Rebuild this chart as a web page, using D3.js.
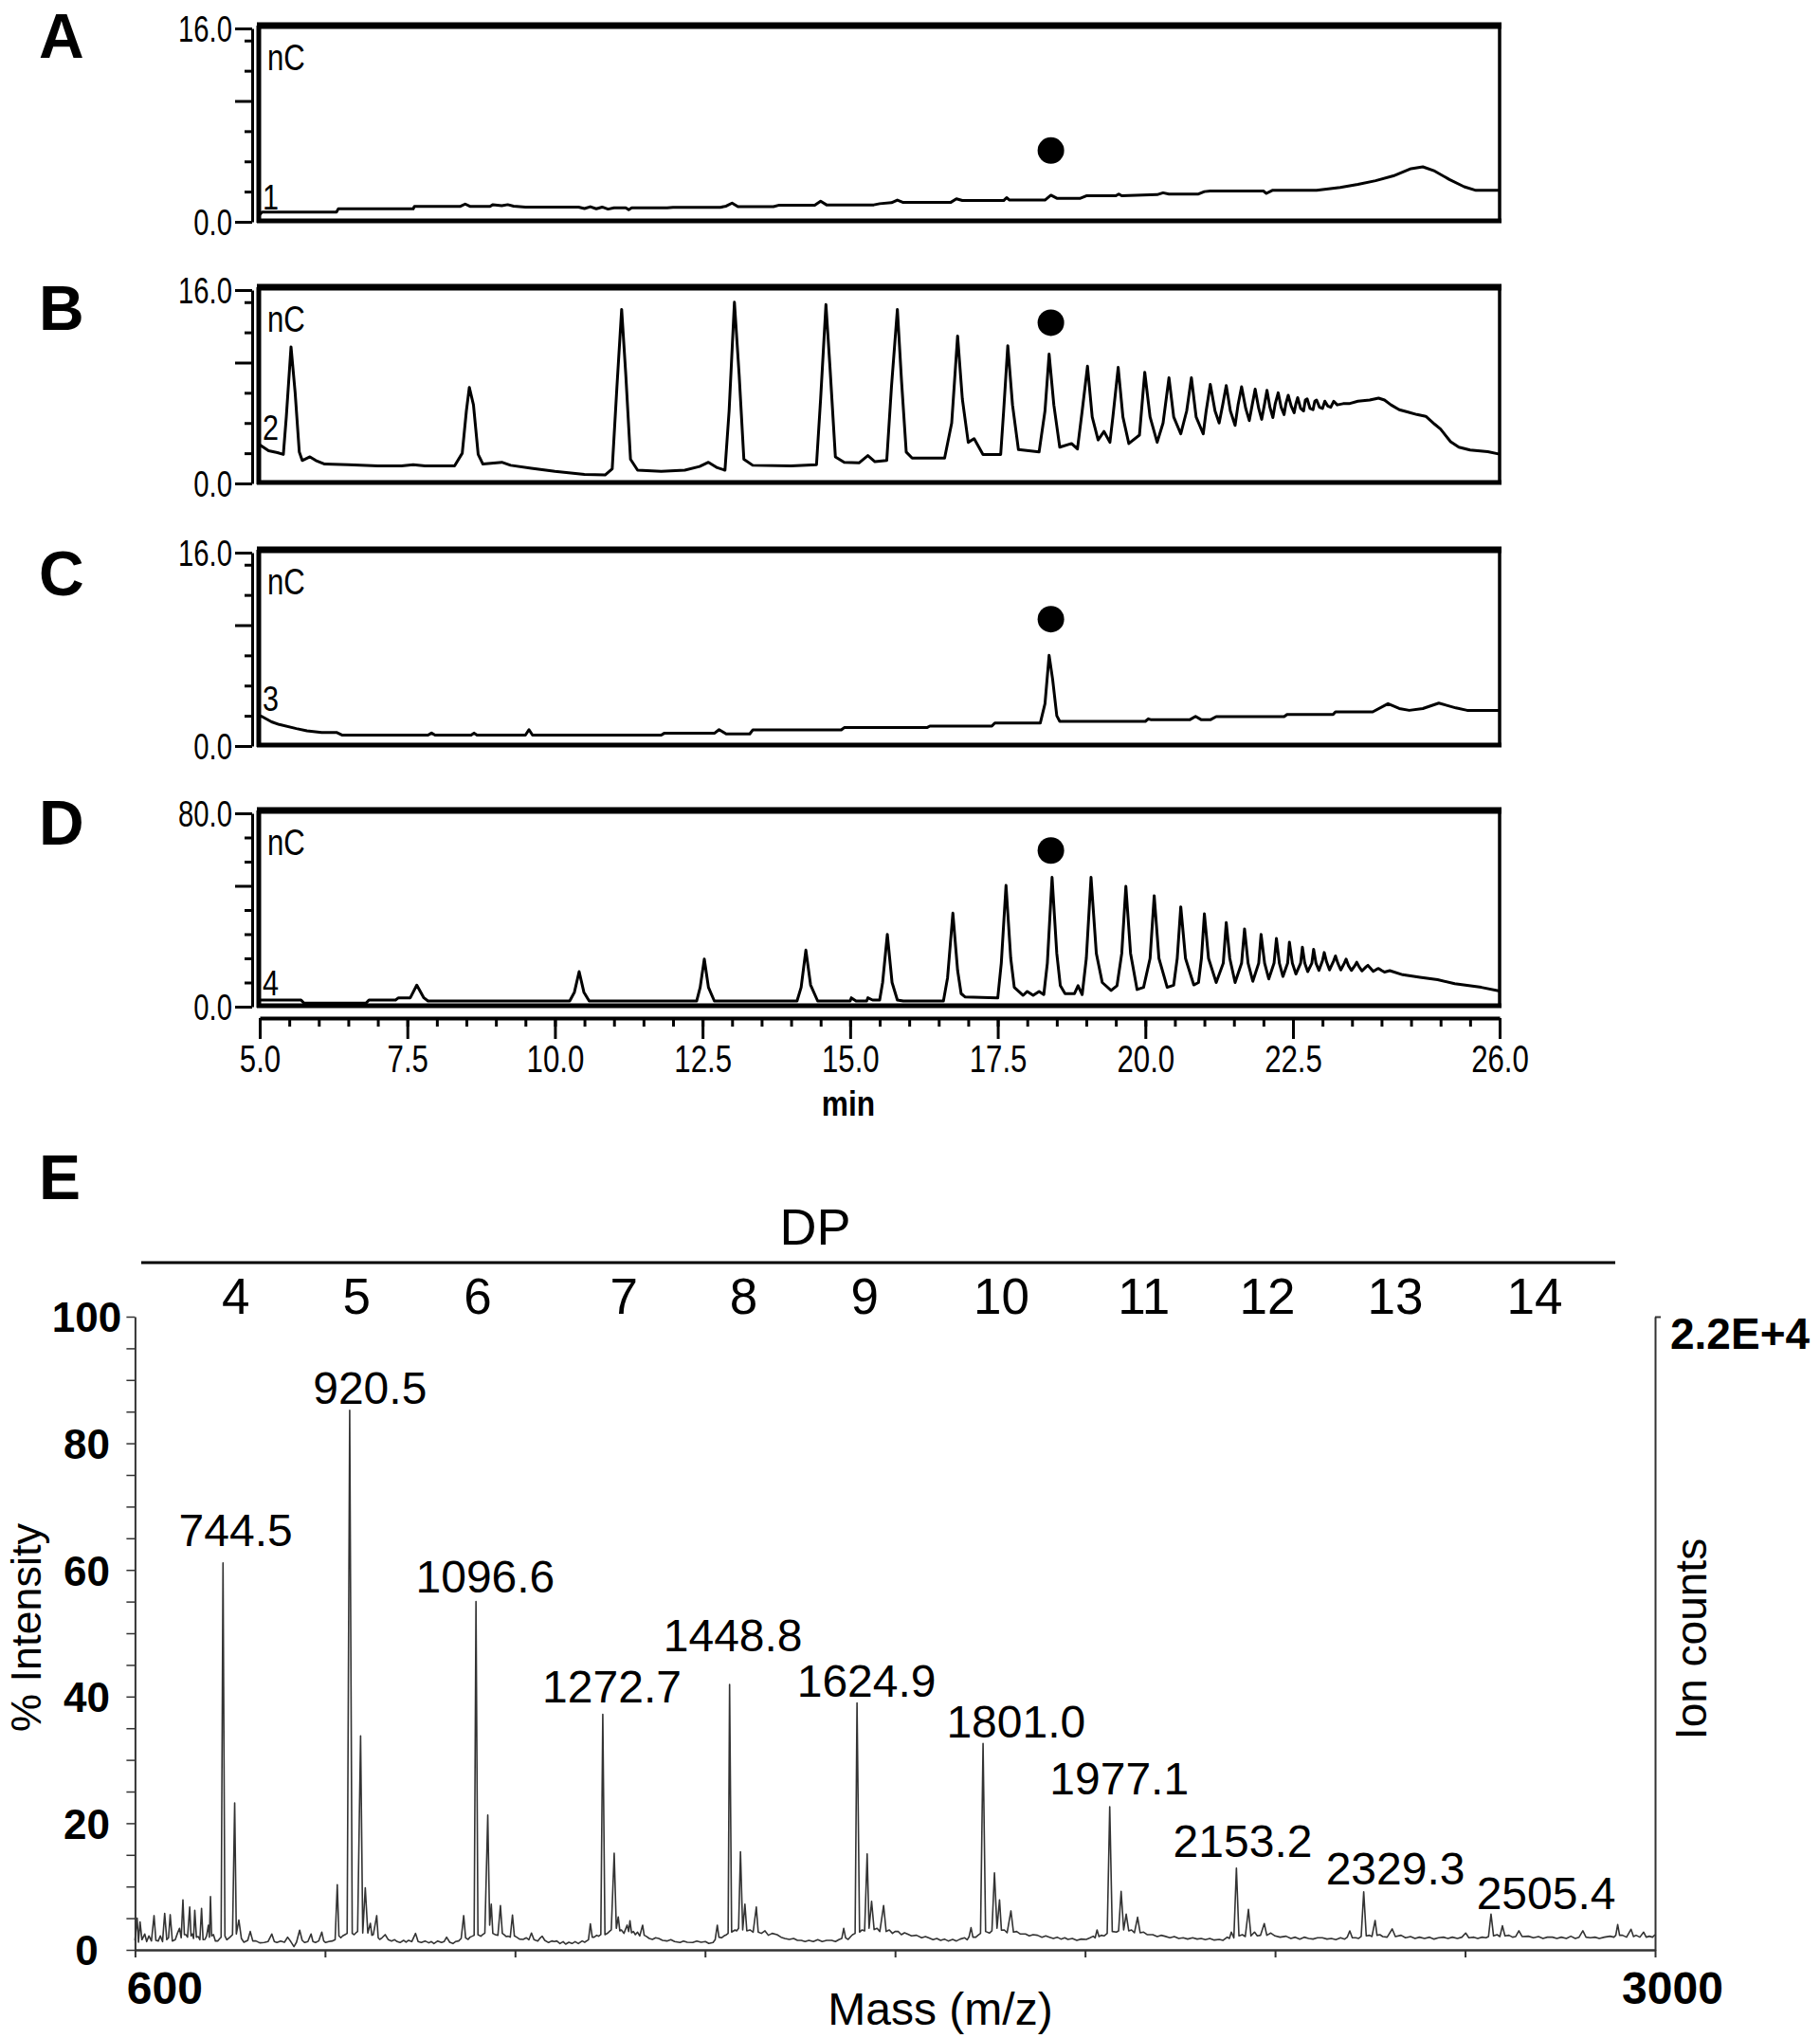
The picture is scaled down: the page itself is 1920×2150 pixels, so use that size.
<!DOCTYPE html>
<html lang="en">

<head>
    <meta charset="UTF-8">
    <title>HPAEC traces and MALDI spectrum</title>
    <script src="https://cdn.jsdelivr.net/npm/d3@7"></script>
    <style>
        body {
            margin: 0;
            background: #fff;
        }

        #chart {
            width: 1920px;
            height: 2150px;
        }

        text {
            font-family: "Liberation Sans", Arial, sans-serif;
        }
    </style>
</head>

<body>
    <div id="chart"></div>
</body>

<script>
    /////////////////////* data *//////////////////////
    // chromatograms: [time (min), signal (nC)]
    let traceA = [[5.0, 0.6], [5.04, 0.8], [6.3, 0.8], [6.33, 1.07], [7.6, 1.07], [7.62, 1.28], [8.4, 1.28], [8.48, 1.47], [8.56, 1.28], [8.9, 1.28], [8.95, 1.42], [9.1, 1.33], [9.2, 1.42], [9.3, 1.3], [9.5, 1.22], [10.4, 1.22], [10.5, 1.1], [10.6, 1.25], [10.7, 1.08], [10.8, 1.22], [10.9, 1.05], [11.0, 1.15], [11.2, 1.15], [11.25, 1.0], [11.3, 1.15], [11.9, 1.15], [12.0, 1.2], [12.8, 1.2], [12.9, 1.3], [13.0, 1.55], [13.1, 1.25], [13.7, 1.25], [13.8, 1.38], [14.4, 1.38], [14.5, 1.7], [14.6, 1.4], [15.4, 1.4], [15.5, 1.5], [15.7, 1.58], [15.8, 1.8], [15.9, 1.6], [16.7, 1.6], [16.8, 1.9], [16.9, 1.76], [17.6, 1.76], [17.65, 2.0], [17.7, 1.8], [18.3, 1.8], [18.4, 2.2], [18.5, 1.95], [18.9, 1.95], [19.0, 2.15], [19.5, 2.15], [19.55, 2.3], [19.6, 2.15], [20.2, 2.25], [20.3, 2.4], [20.4, 2.3], [20.9, 2.3], [21.0, 2.5], [21.1, 2.55], [22.0, 2.55], [22.05, 2.35], [22.15, 2.6], [22.9, 2.6], [23.3, 2.85], [23.6, 3.1], [23.9, 3.4], [24.2, 3.8], [24.5, 4.4], [24.7, 4.55], [24.9, 4.2], [25.15, 3.5], [25.4, 2.9], [25.6, 2.6], [26.0, 2.6]];

    let traceB = [[5.0, 3.2], [5.15, 2.7], [5.3, 2.55], [5.4, 2.4], [5.45, 5.5], [5.53, 11.3], [5.6, 7.5], [5.67, 2.6], [5.72, 1.9], [5.85, 2.2], [5.95, 1.9], [6.1, 1.6], [6.5, 1.55], [7.0, 1.45], [7.4, 1.45], [7.6, 1.55], [7.8, 1.45], [8.3, 1.45], [8.43, 2.5], [8.5, 6.0], [8.55, 7.95], [8.62, 6.5], [8.7, 2.4], [8.78, 1.6], [9.1, 1.75], [9.25, 1.5], [9.6, 1.25], [10.0, 1.0], [10.5, 0.75], [10.85, 0.7], [10.97, 1.2], [11.05, 8.0], [11.13, 14.4], [11.2, 9.0], [11.28, 2.0], [11.4, 1.1], [11.8, 1.0], [12.2, 1.1], [12.45, 1.4], [12.6, 1.75], [12.75, 1.3], [12.88, 1.1], [12.95, 6.0], [13.04, 15.0], [13.12, 9.0], [13.2, 2.0], [13.35, 1.5], [14.0, 1.45], [14.43, 1.55], [14.5, 7.0], [14.59, 14.8], [14.66, 9.5], [14.75, 2.2], [14.9, 1.75], [15.15, 1.7], [15.3, 2.3], [15.42, 1.8], [15.62, 1.9], [15.7, 8.0], [15.8, 14.4], [15.87, 8.5], [15.95, 2.6], [16.05, 2.1], [16.6, 2.1], [16.72, 5.0], [16.82, 12.2], [16.9, 7.0], [17.0, 3.4], [17.1, 3.7], [17.25, 2.4], [17.55, 2.4], [17.6, 6.0], [17.67, 11.4], [17.75, 6.5], [17.85, 2.8], [18.2, 2.6], [18.3, 6.0], [18.37, 10.7], [18.45, 6.5], [18.55, 3.0], [18.75, 3.3], [18.85, 2.85], [18.93, 6.0], [19.02, 9.7], [19.1, 5.5], [19.2, 3.6], [19.3, 4.3], [19.4, 3.4], [19.45, 5.5], [19.54, 9.6], [19.62, 5.5], [19.72, 3.3], [19.9, 4.0], [19.99, 9.2], [20.08, 5.5], [20.2, 3.4], [20.3, 5.0], [20.4, 8.75], [20.48, 5.5], [20.6, 4.1], [20.7, 6.0], [20.78, 8.75], [20.86, 5.5], [20.98, 4.1], [21.03, 6.0], [21.1, 8.2], [21.18, 6.0], [21.25, 5.0], [21.31, 6.5], [21.37, 8.1], [21.44, 6.0], [21.52, 4.8], [21.57, 6.5], [21.63, 8.0], [21.7, 6.2], [21.76, 5.2], [21.81, 6.5], [21.86, 7.8], [21.92, 6.2], [21.97, 5.3], [22.02, 6.6], [22.06, 7.7], [22.11, 6.3], [22.16, 5.45], [22.2, 6.6], [22.25, 7.5], [22.3, 6.3], [22.35, 5.7], [22.38, 6.6], [22.42, 7.3], [22.47, 6.4], [22.52, 5.85], [22.55, 6.6], [22.58, 7.1], [22.63, 6.2], [22.68, 6.0], [22.71, 6.9], [22.74, 7.0], [22.79, 6.2], [22.84, 6.1], [22.87, 6.8], [22.9, 6.9], [22.95, 6.3], [23.0, 6.2], [23.04, 6.8], [23.09, 6.4], [23.14, 6.3], [23.19, 6.8], [23.25, 6.5], [23.35, 6.6], [23.45, 6.6], [23.6, 6.8], [23.8, 6.9], [23.95, 7.06], [24.05, 6.9], [24.16, 6.5], [24.3, 6.1], [24.45, 5.9], [24.6, 5.7], [24.75, 5.55], [24.9, 4.9], [25.0, 4.5], [25.17, 3.45], [25.31, 3.0], [25.5, 2.76], [25.8, 2.63], [26.0, 2.42]];

    let traceC = [[5.0, 2.5], [5.04, 2.43], [5.2, 2.0], [5.33, 1.78], [5.62, 1.44], [5.8, 1.25], [6.05, 1.12], [6.3, 1.12], [6.4, 0.9], [7.85, 0.9], [7.91, 1.07], [7.97, 0.9], [8.58, 0.9], [8.63, 1.07], [8.68, 0.9], [9.5, 0.9], [9.56, 1.35], [9.62, 0.9], [11.8, 0.9], [11.85, 1.05], [12.7, 1.05], [12.78, 1.35], [12.9, 1.0], [13.3, 1.0], [13.35, 1.33], [14.85, 1.33], [14.9, 1.52], [16.3, 1.52], [16.35, 1.65], [17.4, 1.65], [17.45, 1.9], [18.22, 1.9], [18.3, 3.5], [18.37, 7.5], [18.43, 5.5], [18.5, 2.5], [18.55, 2.04], [20.0, 2.04], [20.05, 2.25], [20.1, 2.17], [20.75, 2.17], [20.85, 2.45], [20.95, 2.17], [21.1, 2.17], [21.2, 2.43], [22.35, 2.43], [22.4, 2.61], [23.18, 2.61], [23.22, 2.82], [23.85, 2.82], [24.11, 3.5], [24.3, 3.1], [24.47, 2.95], [24.7, 3.1], [24.97, 3.55], [25.26, 3.15], [25.45, 2.95], [26.0, 2.95]];

    let traceD = [[5.0, 2.75], [5.7, 2.75], [5.75, 1.44], [6.8, 1.44], [6.85, 2.75], [7.3, 2.75], [7.35, 3.66], [7.55, 3.66], [7.66, 8.9], [7.78, 3.66], [7.85, 2.35], [10.25, 2.35], [10.33, 6.0], [10.41, 14.5], [10.49, 6.0], [10.58, 2.35], [12.4, 2.35], [12.46, 8.0], [12.53, 19.7], [12.6, 8.0], [12.7, 2.35], [14.1, 2.35], [14.17, 8.0], [14.25, 23.4], [14.33, 9.0], [14.45, 2.35], [15.0, 2.35], [15.02, 3.66], [15.1, 2.35], [15.28, 2.35], [15.3, 3.66], [15.38, 2.75], [15.5, 2.75], [15.55, 10.0], [15.63, 29.9], [15.71, 10.0], [15.8, 2.75], [15.9, 2.35], [16.58, 2.35], [16.65, 12.0], [16.74, 38.7], [16.82, 15.0], [16.88, 5.4], [16.95, 4.0], [17.5, 3.6], [17.56, 18.0], [17.64, 50.2], [17.72, 20.0], [17.78, 8.0], [17.93, 4.7], [18.0, 6.3], [18.1, 4.7], [18.2, 6.3], [18.28, 5.0], [18.34, 18.0], [18.42, 53.5], [18.5, 22.0], [18.56, 8.7], [18.64, 5.4], [18.8, 5.4], [18.86, 8.7], [18.93, 5.0], [19.0, 20.0], [19.08, 53.5], [19.17, 22.0], [19.27, 10.0], [19.42, 6.7], [19.52, 8.7], [19.6, 22.0], [19.67, 49.8], [19.75, 22.0], [19.86, 7.1], [19.97, 8.0], [20.08, 20.0], [20.15, 45.9], [20.23, 20.0], [20.37, 8.0], [20.48, 8.9], [20.54, 20.0], [20.6, 41.3], [20.68, 20.0], [20.82, 9.0], [20.9, 10.0], [20.95, 20.0], [21.0, 38.4], [21.07, 20.0], [21.2, 10.0], [21.32, 18.0], [21.37, 34.8], [21.43, 20.0], [21.52, 10.0], [21.63, 18.0], [21.68, 32.2], [21.74, 18.0], [21.82, 10.5], [21.92, 18.0], [21.96, 29.9], [22.02, 18.0], [22.09, 11.5], [22.18, 18.0], [22.22, 28.2], [22.27, 18.0], [22.33, 12.5], [22.41, 18.0], [22.44, 26.7], [22.49, 18.0], [22.55, 13.5], [22.63, 18.0], [22.66, 24.6], [22.7, 18.0], [22.75, 14.5], [22.82, 18.0], [22.85, 23.7], [22.89, 18.0], [22.94, 15.0], [23.0, 19.0], [23.03, 22.4], [23.07, 18.5], [23.12, 15.2], [23.19, 19.0], [23.22, 21.0], [23.26, 18.0], [23.31, 15.2], [23.37, 18.0], [23.4, 19.7], [23.44, 17.0], [23.49, 15.0], [23.55, 17.0], [23.58, 18.4], [23.62, 16.5], [23.67, 14.8], [23.74, 16.5], [23.77, 17.1], [23.81, 16.0], [23.86, 14.6], [23.92, 15.5], [23.95, 15.8], [24.0, 15.0], [24.05, 14.3], [24.14, 14.9], [24.36, 13.2], [24.65, 12.2], [24.95, 11.2], [25.24, 9.5], [25.69, 8.0], [26.0, 6.5]];

    let panelLetters = ["A", "B", "C", "D"];
    let panelMax = [16, 16, 16, 80];
    let panelMid = [10, 10, 10, 50];
    let panelMinor = [
        [2.5, 5, 7.5, 12.5, 15],
        [2.5, 5, 7.5, 12.5, 15],
        [2.5, 5, 7.5, 12.5, 15],
        [10, 20, 30, 40, 60, 70]
    ];
    let traceNames = ["1", "2", "3", "4"];
    let dotTime = 18.4;
    let dotValues = [5.9, 13.3, 10.5, 64.6];
    let timeTicks = [5, 7.5, 10, 12.5, 15, 17.5, 20, 22.5, 26];

    // MALDI spectrum: [m/z axis position, % intensity]
    let spectrum = [[600, 1.5], [603.4, 5.0], [605.5, 1.2], [608, 4.4], [611, 1.6], [615.4, 2.5], [618.5, 1.3], [622, 2.2], [626, 1.4], [630.1, 5.4], [633, 1.5], [636.8, 1.4], [640, 2.2], [643.5, 1.3], [646.9, 5.75], [650.2, 1.6], [653, 1.9], [655.6, 5.55], [659, 1.4], [663.6, 1.6], [667, 2.6], [670.3, 3.4], [673, 1.9], [675.7, 7.9], [678, 2.4], [680.4, 2.4], [683, 2.0], [686.4, 6.75], [688.5, 2.2], [690.4, 2.5], [692.5, 1.8], [694.4, 6.25], [697, 2.0], [699.8, 2.1], [702.5, 1.6], [705.1, 6.55], [707.5, 1.6], [710.5, 1.65], [713, 2.2], [715.9, 3.9], [717.5, 2.0], [719.2, 8.4], [721, 2.2], [723.9, 2.4], [727, 1.4], [730.6, 1.4], [734, 1.8], [736, 2.0], [739, 61.1], [742, 2.2], [745, 1.6], [750, 2.0], [754, 2.4], [757.4, 23.2], [760, 2.5], [764, 4.7], [768, 1.8], [772, 1.2],
    [778, 1.5], [782, 2.9], [786, 1.4], [791, 1.4], [797, 1.1], [804, 1.15], [810, 1.3], [816, 2.5], [820, 1.3], [824, 1.15], [830, 1.4], [836, 1.2], [841, 2.0], [846, 1.3], [851, 0.5], [855, 1.2], [860, 3.1], [864, 1.5], [868, 1.15], [873, 1.3], [878, 2.5], [881, 1.3], [885, 1.15], [890, 1.4], [895, 2.8], [898, 1.4], [901, 1.15], [906, 1.3], [911.5, 1.4], [916, 1.6], [919.4, 10.3], [922, 2.2], [925, 1.9], [928, 2.2], [931.5, 2.4], [935, 2.6], [939, 85.2], [943, 2.6], [946, 2.4], [949, 2.7], [951.5, 2.9], [956.2, 33.8], [959.6, 2.65], [963.6, 9.8], [967.6, 2.65], [971.6, 4.2], [974, 2.3], [976.3, 2.4], [981.7, 5.4], [984, 1.9], [986.4, 1.65], [990, 1.9], [995, 2.4], [1000, 1.6], [1005, 1.4], [1010, 1.6], [1014, 1.3], [1018.5, 1.15], [1024, 1.5], [1028, 1.2], [1032, 1.5], [1037, 1.3], [1043, 2.6], [1047, 1.3], [1052, 1.15], [1058, 1.4], [1064, 1.1], [1068, 1.3], [1072, 1.0], [1078, 1.4], [1084, 1.15], [1088, 1.3], [1092, 2.0], [1097, 1.2], [1102, 1.0], [1106, 1.3], [1111, 1.4], [1115, 1.8], [1119, 5.4], [1122, 1.9], [1126, 1.65], [1129, 2.0], [1132.4, 2.15], [1135.5, 2.3], [1138.4, 55.0], [1141.5, 2.4], [1146, 2.15], [1149, 2.4], [1152.4, 2.65], [1157, 21.3], [1160, 3.9], [1162.5, 7.2], [1165, 2.6], [1169, 2.4], [1173, 2.3], [1177, 7.0], [1180, 2.6], [1182.6, 2.4], [1186, 2.1], [1189.3, 2.15], [1192.5, 2.0], [1196, 5.5], [1199, 2.2], [1202.6, 2.0], [1207, 1.7], [1212.7, 1.65], [1218, 1.9], [1222, 1.6], [1226, 2.65], [1230, 1.6], [1236, 1.4], [1240, 1.9], [1243, 2.15], [1247, 1.5], [1253, 1.15], [1258, 1.4], [1262, 1.3], [1266, 1.4], [1271, 1.0], [1276, 1.3], [1280, 0.9], [1285, 1.2], [1290, 1.0], [1295, 1.3], [1300, 1.0], [1306, 1.4], [1310, 1.2], [1313, 1.4], [1316, 1.6], [1319, 4.1], [1322, 2.0], [1325, 2.0], [1329, 2.3], [1332, 2.15], [1335.5, 2.4], [1338.6, 37.2], [1342, 2.4], [1346.6, 2.65], [1349, 2.9], [1352, 3.15], [1356.6, 15.25], [1360, 3.4], [1363, 5.2], [1365.5, 3.0], [1368, 3.15], [1372, 2.6], [1377, 3.9], [1379.5, 2.9], [1381.5, 4.6], [1384, 2.7], [1387, 2.9], [1390, 2.4], [1393.5, 2.8], [1397, 2.2], [1401.5, 3.9], [1404, 2.3], [1407, 2.15], [1412, 1.8], [1417, 1.65], [1422, 1.9], [1427, 1.8], [1433, 1.5], [1440, 1.4], [1446, 1.6], [1452, 1.3], [1460.5, 1.15], [1466, 1.4], [1472, 1.2], [1480.5, 1.15], [1487, 1.4], [1494, 1.2], [1500.6, 1.3], [1506, 1.0], [1512.7, 1.15], [1516, 1.6], [1519.4, 3.9], [1522, 2.0], [1526, 1.9], [1530, 2.2], [1534, 2.4], [1536.5, 2.6], [1538.8, 41.9], [1542, 2.8], [1547.5, 3.15], [1550, 3.0], [1553, 3.4], [1556, 15.5], [1559.5, 3.15], [1563, 7.2], [1566, 3.0], [1571, 3.15], [1576, 2.8], [1581, 6.75], [1584, 2.8], [1589, 2.6], [1594.7, 3.0], [1600, 2.3], [1606, 2.6], [1613.8, 2.4], [1620, 2.0], [1626, 1.8], [1633, 1.65], [1640, 1.8], [1646, 1.5], [1652, 1.5], [1658, 1.3], [1664, 1.5], [1671, 1.3], [1678, 1.6], [1685, 1.3], [1692, 1.5], [1700, 1.5], [1706, 1.3], [1712, 1.65], [1716, 1.8], [1719, 3.4], [1722, 1.9], [1726, 1.65], [1730, 2.1], [1733, 2.4], [1737, 2.6], [1740, 39.0], [1744, 2.8], [1748, 3.15], [1752, 3.0], [1756, 15.15], [1759, 3.4], [1763, 7.65], [1767, 3.2], [1771.6, 3.4], [1776, 2.9], [1782, 7.0], [1786, 2.9], [1791, 3.15], [1796, 2.6], [1800, 2.9], [1805, 2.9], [1810, 2.4], [1815, 2.7], [1819.5, 2.5], [1826, 2.2], [1834, 2.3], [1842, 1.9], [1848, 2.1], [1853, 1.9], [1860, 1.6], [1866, 1.8], [1872, 1.5], [1878, 1.7], [1884, 1.4], [1891, 1.65], [1897, 1.4], [1903, 1.7], [1910, 1.9], [1914, 1.6], [1917, 2.1], [1920, 3.5], [1923, 2.0], [1927.6, 2.0], [1931, 2.3], [1935, 2.6], [1939, 32.6], [1943, 2.9], [1949, 2.65], [1953, 3.0], [1957, 12.15], [1961, 3.4], [1965, 7.9], [1968, 3.1], [1972.5, 3.15], [1977, 2.7], [1983, 6.15], [1987, 2.8], [1992, 2.9], [1998, 2.5], [2006, 2.5], [2012, 2.2], [2018, 2.4], [2025, 2.3], [2032, 2.0], [2038, 2.2], [2044, 2.0], [2050, 1.8], [2056, 2.0], [2062, 1.7], [2068, 1.9], [2073, 1.65], [2080, 1.8], [2087, 1.5], [2094, 1.7], [2102, 1.65], [2108, 1.9], [2113, 2.15], [2116, 1.9], [2119, 3.15], [2122, 2.1], [2125.6, 2.3], [2130, 2.2], [2135, 2.6], [2139, 22.6], [2143, 2.9], [2149.5, 2.8], [2153, 3.0], [2157, 9.25], [2161, 3.15], [2165, 5.65], [2169, 3.0], [2173.4, 3.15], [2178, 2.7], [2183, 5.15], [2187, 2.7], [2192.5, 2.8], [2198, 2.4], [2207, 2.4], [2214, 2.1], [2220, 2.3], [2226, 2.15], [2234, 1.9], [2241, 2.1], [2248, 1.8], [2255, 1.9], [2262, 1.7], [2270, 1.9], [2277, 1.7], [2283.4, 1.8], [2290, 1.6], [2297, 1.8], [2304, 1.55], [2312, 1.65], [2318, 1.5], [2324.5, 2.0], [2328, 1.8], [2331, 2.8], [2335, 1.9], [2339, 12.9], [2343, 2.2], [2348.5, 2.4], [2353, 2.1], [2358, 6.4], [2362, 2.2], [2367.6, 2.8], [2372, 2.2], [2377, 2.3], [2383, 4.15], [2387, 2.3], [2393.4, 2.65], [2400, 2.2], [2408, 2.0], [2417.4, 2.15], [2425, 1.8], [2432, 2.0], [2439, 1.7], [2446, 2.0], [2453, 1.8], [2460, 1.7], [2467, 1.9], [2474.7, 1.9], [2482, 1.7], [2489, 1.8], [2496, 1.6], [2503.4, 1.9], [2510, 1.7], [2514, 2.0], [2518, 3.0], [2522, 1.9], [2527.4, 1.9], [2532, 1.8], [2536, 2.1], [2540, 9.15], [2544, 2.2], [2549.3, 2.3], [2553, 2.1], [2558, 4.65], [2561, 2.3], [2565.6, 2.4], [2570, 2.1], [2577, 2.0], [2585, 3.3], [2590, 2.1], [2599, 2.3], [2606, 1.9], [2614, 2.1], [2621, 1.8], [2628, 2.0], [2636, 1.8], [2644, 2.0], [2651, 1.7], [2658, 1.9], [2666, 2.0], [2673, 1.8], [2680, 2.0], [2688, 1.8], [2695, 2.0], [2701, 2.65], [2706, 1.9], [2714, 2.0], [2720, 1.8], [2727, 2.0], [2733, 1.9], [2737, 2.1], [2741, 5.65], [2745, 2.2], [2750.6, 2.4], [2755, 2.1], [2759, 3.8], [2763, 2.2], [2769.4, 2.3], [2775, 2.0], [2780, 2.1], [2785, 3.0], [2790, 2.1], [2800, 2.15], [2808, 1.9], [2816, 2.1], [2823, 1.8], [2830, 2.0], [2838, 2.0], [2845, 1.8], [2852, 2.0], [2860, 1.8], [2867, 2.15], [2874, 1.8], [2880, 2.0], [2886, 3.0], [2891, 2.0], [2898, 1.9], [2905, 2.0], [2912, 1.8], [2920, 2.0], [2929, 2.15], [2935, 2.0], [2938, 2.3], [2941, 4.0], [2944, 2.3], [2948.6, 2.3], [2955, 2.0], [2962, 3.25], [2966, 2.1], [2970, 2.3], [2976, 2.0], [2982, 2.8], [2986, 2.0], [2991, 2.15], [2996, 2.0], [3000, 2.4]];

    let peakLabels = ["744.5", "920.5", "1096.6", "1272.7", "1448.8", "1624.9", "1801.0", "1977.1", "2153.2", "2329.3", "2505.4"];
    let peakLabelAt = [759, 971, 1153, 1353, 1544, 1755, 1991, 2154, 2349, 2590, 2828];
    let peakLabelPct = [63.8, 86.3, 56.4, 39.0, 47.2, 40.0, 33.5, 24.6, 14.6, 10.3, 6.4];

    let dpLabels = ["4", "5", "6", "7", "8", "9", "10", "11", "12", "13", "14"];
    let dpAt = [759, 950, 1141, 1372, 1561, 1752, 1968, 2193, 2388, 2590, 2810];

    let massTicks = [600, 900, 1200, 1500, 1800, 2100, 2400, 2700, 3000];
    let intensityTicks = [0, 5, 10, 15, 20, 25, 30, 35, 40, 45, 50, 55, 60, 65, 70, 75, 80, 85, 90, 95, 100];

    /////////////////////* canvas *//////////////////////
    let svg = d3.select("#chart").append("svg")
        .attr("width", 1920)
        .attr("height", 2150);

    svg.append("rect").attr("width", 1920).attr("height", 2150).attr("fill", "#fff");

    // narrow the plotting-software lettering (it is a condensed face)
    let squeeze = (sel, k) => {
        sel.each(function () {
            let w = this.getComputedTextLength();
            d3.select(this).attr("textLength", w * k).attr("lengthAdjust", "spacingAndGlyphs");
        });
    };

    let letter = (txt, x, y) => {
        svg.append("text")
            .attr("x", x).attr("y", y)
            .attr("font-size", 66).attr("font-weight", "bold")
            .text(txt);
    };

    //////////////////////* chromatograms A-D *//////////////////////
    let traces = [traceA, traceB, traceC, traceD];
    let panelTop = [27, 303, 580, 855];
    let letterY = [61, 348, 628, 891];
    let boxL = 273, boxR = 1582;

    let xT = d3.scaleLinear().domain([5, 26]).range([274, 1582]);

    traces.forEach((trace, i) => {
        let top = panelTop[i];
        let y = d3.scaleLinear().domain([0, panelMax[i]]).range([top + 207, top + 3]);
        let g = svg.append("g").attr("class", "panel");

        letter(panelLetters[i], 41, letterY[i]);

        // frame: heavy top, lighter sides
        g.append("line").attr("x1", boxL - 2).attr("x2", boxR + 2).attr("y1", top).attr("y2", top)
            .attr("stroke", "#000").attr("stroke-width", 7);
        g.append("line").attr("x1", boxL - 2).attr("x2", boxR + 2).attr("y1", top + 206).attr("y2", top + 206)
            .attr("stroke", "#000").attr("stroke-width", 5);
        g.append("line").attr("x1", boxL).attr("x2", boxL).attr("y1", top).attr("y2", top + 208)
            .attr("stroke", "#000").attr("stroke-width", 5);
        g.append("line").attr("x1", boxR).attr("x2", boxR).attr("y1", top).attr("y2", top + 208)
            .attr("stroke", "#000").attr("stroke-width", 3.5);

        // y axis, major + minor ticks
        let major = g.append("g")
            .attr("transform", "translate(266,0)")
            .call(d3.axisLeft(y).tickValues([0, panelMid[i], panelMax[i]]).tickSize(18).tickSizeOuter(0)
                .tickFormat(d => d === panelMid[i] ? "" : d.toFixed(1)));
        major.select(".domain").attr("stroke-width", 3);
        major.selectAll(".tick line").attr("stroke-width", 3);
        major.selectAll(".tick text")
            .attr("font-size", 38).attr("font-family", "Liberation Sans, Arial, sans-serif")
            .attr("fill", "#000").attr("dy", "0.36em").attr("x", -21)
            .call(squeeze, 0.77);

        let minor = g.append("g")
            .attr("transform", "translate(266,0)")
            .call(d3.axisLeft(y).tickValues(panelMinor[i]).tickSize(8).tickFormat(""));
        minor.select(".domain").remove();
        minor.selectAll(".tick line").attr("stroke-width", 3);

        // trace
        g.append("path")
            .datum(trace)
            .attr("d", d3.line().x(d => xT(d[0])).y(d => y(d[1])))
            .attr("fill", "none")
            .attr("stroke", "#000")
            .attr("stroke-width", 3)
            .attr("stroke-linejoin", "round");

        g.append("text")
            .attr("x", 282).attr("y", top + 47)
            .attr("font-size", 38)
            .text("nC")
            .call(squeeze, 0.82);

        g.append("text")
            .attr("x", 277).attr("y", y(trace[0][1]) - 5)
            .attr("font-size", 36)
            .text(traceNames[i])
            .call(squeeze, 0.85);

        g.append("circle")
            .attr("cx", xT(dotTime)).attr("cy", y(dotValues[i]))
            .attr("r", 14).attr("fill", "#000");
    });

    // shared time axis under D
    let tAxis = svg.append("g")
        .attr("transform", "translate(0,1074)")
        .call(d3.axisBottom(xT).tickValues(timeTicks).tickSize(22).tickSizeOuter(0).tickPadding(7)
            .tickFormat(d => d.toFixed(1)));
    tAxis.select(".domain").attr("stroke-width", 4);
    tAxis.selectAll(".tick line").attr("stroke-width", 3);
    tAxis.selectAll(".tick text")
        .attr("font-size", 40).attr("font-family", "Liberation Sans, Arial, sans-serif").attr("fill", "#000")
        .call(squeeze, 0.78);

    let tMinor = svg.append("g")
        .attr("transform", "translate(0,1074)")
        .call(d3.axisBottom(xT).tickValues(d3.range(5.5, 26, 0.5)).tickSize(9).tickFormat(""));
    tMinor.select(".domain").remove();
    tMinor.selectAll(".tick line").attr("stroke-width", 3);

    svg.append("text")
        .attr("x", 895).attr("y", 1177)
        .attr("text-anchor", "middle")
        .attr("font-size", 36).attr("font-weight", "bold")
        .text("min")
        .call(squeeze, 0.88);

    //////////////////////* mass spectrum E *//////////////////////
    letter("E", 41, 1265);

    let xM = d3.scaleLinear().domain([600, 3000]).range([142.4, 1746]);
    let yM = d3.scaleLinear().domain([0, 100]).range([2057, 1389]);
    let ink = "#333";

    // DP ruler
    svg.append("text")
        .attr("x", 860).attr("y", 1313)
        .attr("text-anchor", "middle").attr("font-size", 54)
        .text("DP");
    svg.append("line")
        .attr("x1", 149).attr("x2", 1704).attr("y1", 1332).attr("y2", 1332)
        .attr("stroke", "#000").attr("stroke-width", 3);
    svg.selectAll(".dp")
        .data(dpLabels)
        .enter()
        .append("text").attr("class", "dp")
        .attr("x", (d, i) => xM(dpAt[i]))
        .attr("y", 1386)
        .attr("text-anchor", "middle").attr("font-size", 53)
        .text(d => d);

    // axes
    let mAxis = svg.append("g")
        .attr("transform", "translate(0,2057)")
        .call(d3.axisBottom(xM).tickValues(massTicks).tickSize(8).tickSizeOuter(0).tickPadding(15)
            .tickFormat(d => (d === 600 || d === 3000) ? d : ""));
    mAxis.select(".domain").attr("stroke", ink).attr("stroke-width", 2.5);
    mAxis.selectAll(".tick line").attr("stroke", ink).attr("stroke-width", 2);
    mAxis.selectAll(".tick text")
        .attr("font-size", 48).attr("font-weight", "bold").attr("fill", "#000")
        .attr("font-family", "Liberation Sans, Arial, sans-serif")
        .attr("dx", d => d === 600 ? 31 : 18);

    let iAxis = svg.append("g")
        .attr("transform", "translate(142.4,0)")
        .call(d3.axisLeft(yM).tickValues(intensityTicks).tickSize(9).tickSizeOuter(0)
            .tickFormat(d => d % 20 === 0 ? d : ""));
    iAxis.select(".domain").attr("stroke", ink).attr("stroke-width", 2);
    iAxis.selectAll(".tick line").attr("stroke", ink).attr("stroke-width", 1.5);
    iAxis.selectAll(".tick text")
        .attr("font-size", 44).attr("font-weight", "bold").attr("fill", "#000")
        .attr("font-family", "Liberation Sans, Arial, sans-serif")
        .attr("x", -51).attr("text-anchor", "middle").attr("dy", "0.36em");

    let cAxis = svg.append("g")
        .attr("transform", "translate(1746,0)")
        .call(d3.axisRight(yM).tickValues([100]).tickSize(6).tickSizeOuter(0).tickPadding(10)
            .tickFormat(() => "2.2E+4"));
    cAxis.select(".domain").attr("stroke", ink).attr("stroke-width", 2);
    cAxis.selectAll(".tick line").attr("stroke", ink).attr("stroke-width", 2);
    cAxis.selectAll(".tick text")
        .attr("font-size", 46).attr("font-weight", "bold").attr("fill", "#000")
        .attr("font-family", "Liberation Sans, Arial, sans-serif")
        .attr("dy", "0.72em");

    // spectrum trace
    svg.append("path")
        .datum(spectrum)
        .attr("d", d3.line().x(d => xM(d[0])).y(d => yM(d[1])))
        .attr("fill", "none")
        .attr("stroke", ink)
        .attr("stroke-width", 1.6)
        .attr("stroke-linejoin", "round");

    svg.selectAll(".peakLabel")
        .data(peakLabels)
        .enter()
        .append("text").attr("class", "peakLabel")
        .attr("x", (d, i) => xM(peakLabelAt[i]))
        .attr("y", (d, i) => yM(peakLabelPct[i]))
        .attr("text-anchor", "middle").attr("font-size", 48)
        .text(d => d);

    // axis titles
    svg.append("text")
        .attr("x", 992).attr("y", 2136)
        .attr("text-anchor", "middle").attr("font-size", 48)
        .text("Mass (m/z)");

    svg.append("text")
        .attr("transform", "translate(43,1717) rotate(-90)")
        .attr("text-anchor", "middle").attr("font-size", 45)
        .text("% Intensity");

    svg.append("text")
        .attr("transform", "translate(1800,1729) rotate(-90)")
        .attr("text-anchor", "middle").attr("font-size", 46)
        .text("Ion counts");
</script>

</html>
